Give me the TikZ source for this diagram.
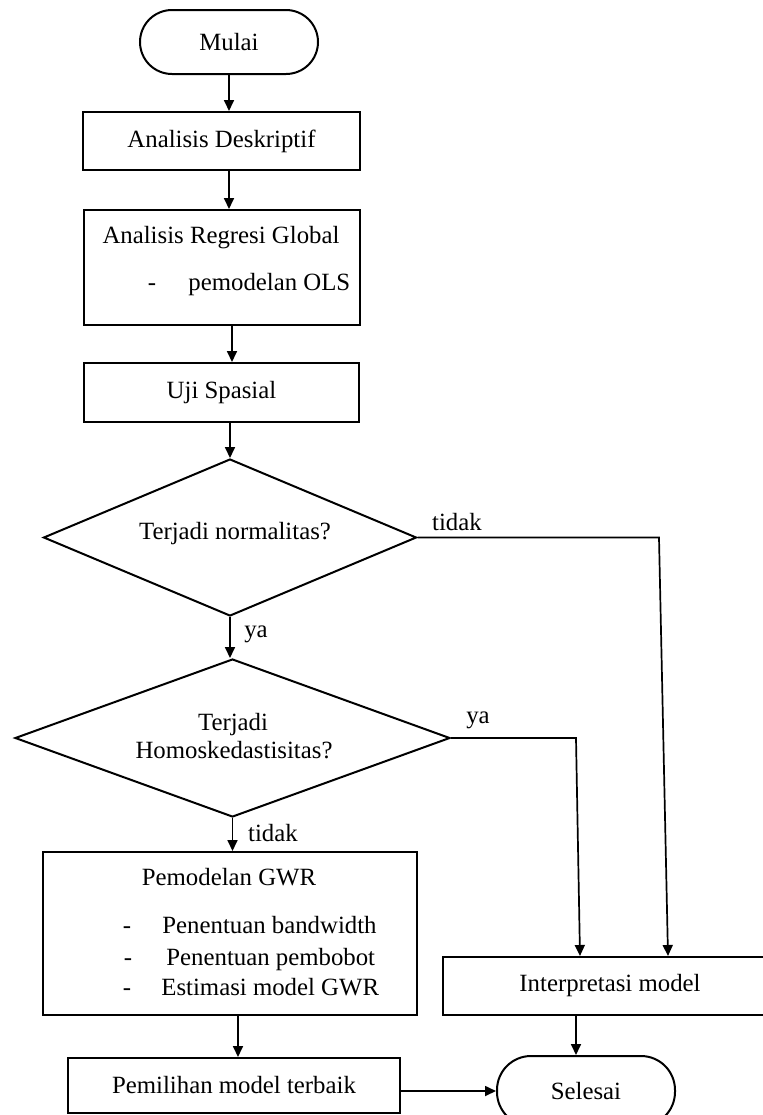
\documentclass[tikz,border=0pt]{standalone}
\usepackage{fontspec}
\setmainfont{Liberation Serif}
\usetikzlibrary{arrows.meta,shapes.geometric}
\begin{document}
\begin{tikzpicture}[x=0.5pt,y=-0.5pt,
  every node/.style={font=\fontsize{12.4}{14}\selectfont},
  box/.style={draw,line width=1pt,inner sep=0pt},
  dec/.style={draw,line width=1pt,shape=diamond,inner sep=0pt},
  arr/.style={line width=0.85pt,-{Triangle[length=5.5pt,width=5pt]}},
  txt/.style={anchor=base,inner sep=0pt},
  txtl/.style={anchor=base west,inner sep=0pt}]
\useasboundingbox (0,0) rectangle (763,1115);
\fill[white] (0,0) rectangle (763,1115);

% nodes
\node[box,rounded corners=16pt,minimum width=89pt,minimum height=32pt] (mulai) at (229,42) {Mulai};
\node[box,minimum width=138.5pt,minimum height=29pt] (desk) at (221.5,141) {Analisis Deskriptif};
\node[box,minimum width=138pt,minimum height=57.5pt] (reg) at (222,267.5) {};
\node[txt] (reg1) at (221,243) {Analisis Regresi Global};
\node[txt] (reg2a) at (152,290) {-};
\node[txtl] (reg2b) at (188,290) {pemodelan OLS};
\node[box,minimum width=137.5pt,minimum height=29.5pt] (uji) at (221.5,392.5) {Uji Spasial};
\node[dec,minimum width=186.5pt,minimum height=78.5pt] (d1) at (230,537.5) {};
\node[txt] (d1t) at (235,539) {Terjadi normalitas?};
\node[dec,minimum width=217.5pt,minimum height=79pt] (d2) at (232.5,738) {};
\node[txt] (d2a) at (233,730) {Terjadi};
\node[txt] (d2b) at (234,758) {Homoskedastisitas?};
\node[box,minimum width=187pt,minimum height=81.5pt] (gwr) at (230,933.5) {};
\node[txt] (g0) at (229,885) {Pemodelan GWR};
\node[txt] (g1a) at (127,933) {-};
\node[txtl] (g1b) at (162,933) {Penentuan bandwidth};
\node[txt] (g2a) at (128,965) {-};
\node[txtl] (g2b) at (166,965) {Penentuan pembobot};
\node[txt] (g3a) at (127,995) {-};
\node[txtl] (g3b) at (161,995) {Estimasi model GWR};
\node[box,minimum width=167pt,minimum height=29pt] (interp) at (610,986) {Interpretasi model};
\node[box,minimum width=166pt,minimum height=27.5pt] (pem) at (234,1085.5) {Pemilihan model terbaik};
\node[box,rounded corners=17pt,minimum width=89pt,minimum height=35pt] (sel) at (586,1091) {Selesai};

% helper coordinates
\coordinate (cx2) at (232,0);
\coordinate (cg) at (238,0);
\coordinate (cs) at (576,0);
\coordinate (k1) at (659,537.5);
\coordinate (k1e) at (668,0);
\coordinate (k2) at (576,738);
\coordinate (k2e) at (580,0);

% connectors
\draw[arr] (mulai.south) -- (mulai.south |- desk.north);
\draw[arr] (mulai.south |- desk.south) -- (mulai.south |- reg.north);
\draw[arr] (cx2 |- reg.south) -- (cx2 |- uji.north);
\draw[arr] (d1.north |- uji.south) -- (d1.north);
\draw[arr] (d1.south) -- (d1.south |- d2.north);
\draw[arr] (d2.south) -- (d2.south |- gwr.north);
\draw[arr] (cg |- gwr.south) -- (cg |- pem.north);
\draw[arr] (cs |- interp.south) -- (cs |- sel.north);
\draw[arr] (sel.west -| pem.east) -- (sel.west);
\draw[arr] (d1.east) -- (k1) -- (k1e |- interp.north);
\draw[arr] (d2.east) -- (k2) -- (k2e |- interp.north);

% labels
\node[txt] (l1) at (457,530) {tidak};
\node[txt] (l2) at (256,637) {ya};
\node[txt] (l3) at (478,723) {ya};
\node[txt] (l4) at (273,841) {tidak};
\end{tikzpicture}
\end{document}
